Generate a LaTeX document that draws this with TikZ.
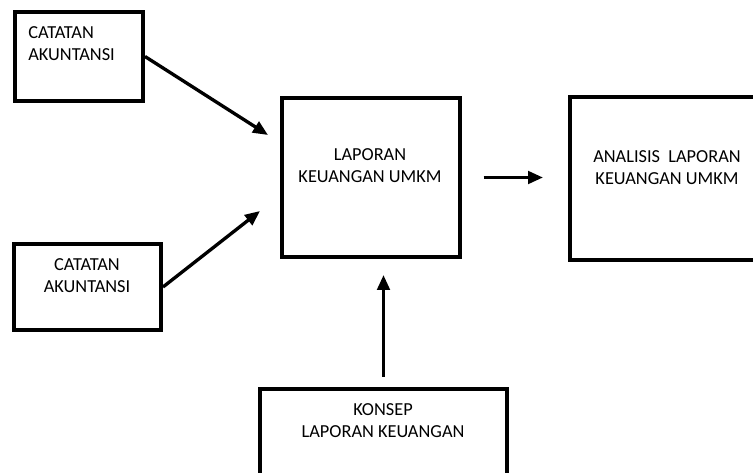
\documentclass[tikz,border=0pt]{standalone}
\usepackage{fontspec}
\setmainfont{Carlito}
\usetikzlibrary{arrows.meta}
\tikzset{
  blok/.style={draw,line width=2.4pt,inner sep=0pt},
  teks/.style={inner sep=0pt,align=center,font=\fontsize{11}{13.2}\selectfont},
  panah/.style={line width=2pt,-{Triangle[length=9pt,width=7.5pt]}},
}
\begin{document}
\begin{tikzpicture}[x=.6pt,y=-.6pt]
\useasboundingbox (0,0) rectangle (753,473);
\clip (0,0) rectangle (753,473);
\node[blok,minimum width=76.8pt,minimum height=53.4pt] (cat1) at (79,56.5) {};
\node[blok,minimum width=88.2pt,minimum height=51.6pt] (cat2) at (87.5,287) {};
\node[blok,minimum width=106.8pt,minimum height=95.4pt] (lap) at (371,177.5) {};
\node[blok,minimum width=114pt,minimum height=97.8pt] (anl) at (665,178.5) {};
\node[blok,minimum width=148.2pt,minimum height=54pt] (kon) at (383.5,434) {};
\node[teks,anchor=north west,align=left] (cat1t) at (28,26) {CATATAN\\AKUNTANSI};
\node[teks,anchor=north] (cat2t) at (87,258) {CATATAN\\AKUNTANSI};
\node[teks,anchor=north] (lapt) at (370,148) {LAPORAN\\KEUANGAN UMKM};
\node[teks,anchor=north] (anlt) at (667,150) {ANALISIS\ \ LAPORAN\\KEUANGAN UMKM};
\node[teks,anchor=north] (kont) at (383,403) {KONSEP\\LAPORAN KEUANGAN};
\coordinate (in1) at (268,135);
\coordinate (in2) at (260,211);
\draw[panah] (cat1.east) -- (in1);
\draw[panah] (cat2.east) -- (in2);
\draw[panah,shorten <=13pt,shorten >=15pt] (lap.east) -- (lap.east -| anl.west);
\draw[panah,shorten <=6pt,shorten >=9.6pt] (kon.north) -- (kon.north |- lap.south);
\end{tikzpicture}
\end{document}
